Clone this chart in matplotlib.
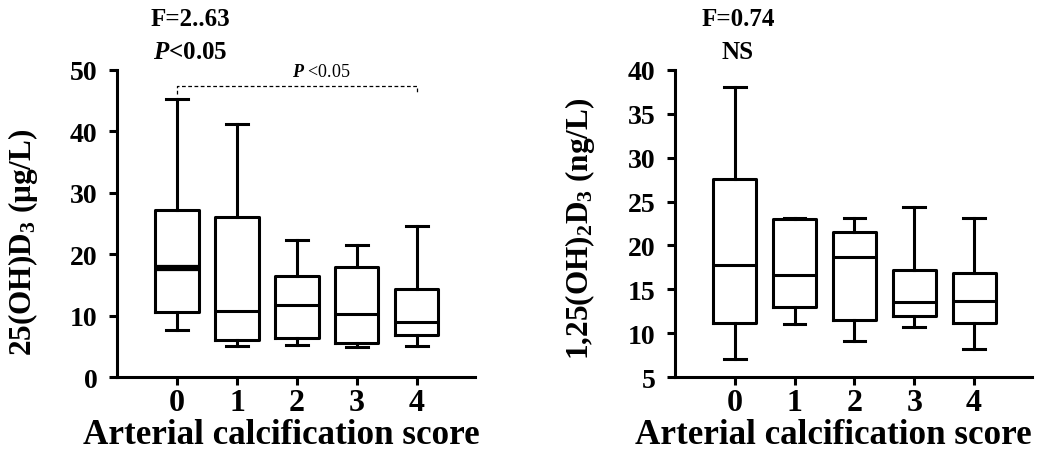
import numpy as np
import matplotlib
matplotlib.use("Agg")
import matplotlib.pyplot as plt

plt.rcParams['font.family'] = ['Liberation Serif', 'DejaVu Serif']
plt.rcParams['font.weight'] = 'bold'
plt.rcParams['axes.labelweight'] = 'bold'
plt.rcParams['mathtext.fontset'] = 'custom'
plt.rcParams['mathtext.rm'] = 'Liberation Serif:bold'
plt.rcParams['mathtext.bf'] = 'Liberation Serif:bold'
plt.rcParams['mathtext.it'] = 'Liberation Serif:italic:bold'

scores = [0, 1, 2, 3, 4]

# 25(OH)D3 (ug/L)
d25_whislo = [7.6, 5.05, 5.2, 4.9, 5.05]
d25_q1 = [10.65, 6.1, 6.4, 5.6, 6.8]
d25_med = [17.7, 10.8, 11.8, 10.2, 9.0]
d25_q3 = [27.2, 26.0, 16.4, 17.9, 14.4]
d25_whishi = [45.3, 41.2, 22.3, 21.5, 24.6]

# 1,25(OH)2D3 (ng/L)
d125_whislo = [7.0, 11.0, 9.1, 10.7, 8.2]
d125_q1 = [11.2, 13.0, 11.5, 11.9, 11.2]
d125_med = [17.8, 16.6, 18.7, 13.6, 13.7]
d125_q3 = [27.6, 23.0, 21.5, 17.2, 16.9]
d125_whishi = [38.1, 23.1, 23.1, 24.4, 23.1]


def make_stats(lo, q1, med, q3, hi):
    return [dict(whislo=a, q1=b, med=c, q3=d, whishi=e, fliers=[])
            for a, b, c, d, e in zip(lo, q1, med, q3, hi)]


fig = plt.figure(figsize=(10.39, 4.52), dpi=100)
ax1 = fig.add_axes([0.1126, 0.1637, 0.3446, 0.6793])
ax2 = fig.add_axes([0.6497, 0.1637, 0.3436, 0.6793])

lw = 2.2
style = dict(
    boxprops=dict(color='black', linewidth=lw),
    whiskerprops=dict(color='black', linewidth=lw),
    capprops=dict(color='black', linewidth=lw),
    medianprops=dict(color='black', linewidth=lw),
)

b1 = ax1.bxp(make_stats(d25_whislo, d25_q1, d25_med, d25_q3, d25_whishi),
             positions=scores, widths=0.72, showfliers=False, **style)
b1['medians'][0].set_linewidth(4.5)
ax2.bxp(make_stats(d125_whislo, d125_q1, d125_med, d125_q3, d125_whishi),
        positions=scores, widths=0.72, showfliers=False, **style)

for ax in (ax1, ax2):
    for s in ('top', 'right'):
        ax.spines[s].set_visible(False)
    for s in ('left', 'bottom'):
        ax.spines[s].set_linewidth(2.2)
    ax.tick_params(width=2.2, length=6, direction='out')
    ax.tick_params(axis='y', labelsize=20, pad=8)
    ax.tick_params(axis='x', labelsize=23, pad=2)
    ax.set_xticks(scores)
    ax.set_xticklabels([str(s) for s in scores])
    ax.set_xlim(-1.0, 4.97)
    ax.set_xlabel('Arterial calcification score', fontsize=25.2)

ax1.xaxis.set_label_coords(0.46, -0.135)
ax2.xaxis.set_label_coords(0.443, -0.135)

ax1.set_ylim(0, 50)
ax1.set_yticks([0, 10, 20, 30, 40, 50])
ax1.set_ylabel(r'25(OH)D$_3$ (μg/L)', fontsize=22.5)
ax1.yaxis.set_label_coords(-0.215, 0.443)

ax2.set_ylim(5, 40)
ax2.set_yticks([5, 10, 15, 20, 25, 30, 35, 40])
ax2.set_ylabel(r'1,25(OH)$_2$D$_3$ (ng/L)', fontsize=22.5)
ax2.yaxis.set_label_coords(-0.218, 0.487)

# comparison bracket 0 vs 4
ax1.plot([0, 0, 4, 4], [46.1, 47.4, 47.4, 46.1], color='black',
         linestyle=(0, (3, 2)), linewidth=0.9, clip_on=False)
ax1.text(2.4, 48.4, r'$P$ <0.05', fontsize=13, ha='center', va='bottom',
         fontweight='normal')

# ANOVA annotations
ax1.text(0.204, 1.166, 'F=2..63', transform=ax1.transAxes, fontsize=18,
         ha='center', va='center')
ax1.text(0.204, 1.059, r'$P$<0.05', transform=ax1.transAxes, fontsize=18,
         ha='center', va='center')
ax2.text(0.176, 1.166, 'F=0.74', transform=ax2.transAxes, fontsize=18,
         ha='center', va='center')
ax2.text(0.176, 1.059, 'NS', transform=ax2.transAxes, fontsize=18,
         ha='center', va='center')

fig.savefig('out.png', dpi=100)
